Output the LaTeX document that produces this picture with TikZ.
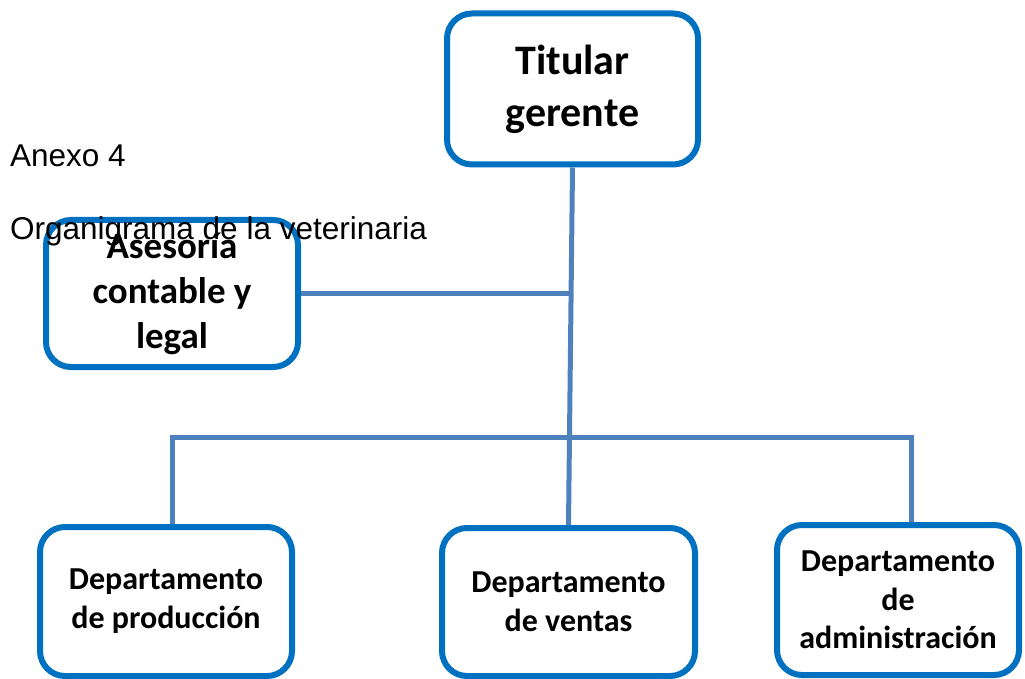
\documentclass[tikz,border=0pt]{standalone}
\usepackage{fontspec}
\setmainfont{Liberation Sans}
\newfontfamily\boxfont{Carlito}
\definecolor{orgblue}{RGB}{0, 112, 192}
\definecolor{orgline}{RGB}{79, 129, 189}
\begin{document}
\begin{tikzpicture}[x=1pt, y=-1pt,
    unit/.style={draw=orgblue, line width=6pt, rounded corners=25pt, fill=white, rectangle, align=center, inner sep=0pt, minimum width=251pt, minimum height=149pt},
    link/.style={draw=orgline, line width=5pt}]
        \useasboundingbox (0,0) rectangle (1025,679);
        % boxes
        \node[unit, font=\boxfont\bfseries\fontsize{42}{52}\selectfont, minimum height=151pt] (top) at (572.5,89) {Titular\\gerente};
        \node[unit, font=\boxfont\bfseries\fontsize{37}{45}\selectfont, minimum width=252pt, minimum height=147pt] (ases) at (172,293.5) {Asesoría\\contable y\\legal};
        \node[unit, font=\boxfont\bfseries\fontsize{32}{39}\selectfont, minimum width=252pt] (prod) at (166,601.5) {Departamento\\de producción};
        \node[unit, font=\boxfont\bfseries\fontsize{32}{39}\selectfont, minimum width=253pt, minimum height=148pt] (vent) at (568.5,602) {Departamento\\de ventas};
        \node[unit, font=\boxfont\bfseries\fontsize{32}{38.5}\selectfont, minimum width=242pt, minimum height=150pt] (adm) at (898,600) {Departamento\\de\\administración};
        % connectors
        \coordinate (barL) at (172,437);
        \coordinate (barR) at (911,437);
        \draw[link] (top.south) -- (vent.north);
        \draw[link] (ases.east) -- (ases.east -| top.south);
        \draw[link] (barL |- prod.north) -- (barL) -- (barR) -- (barR |- adm.north);
        % captions
        \node[anchor=base west, inner sep=0pt, font=\fontsize{31.5}{38}\selectfont] (anexo) at (10,167) {Anexo 4};
        \node[anchor=base west, inner sep=0pt, font=\fontsize{31.5}{38}\selectfont] (title) at (10,240) {Organigrama de la veterinaria};
\end{tikzpicture}
\end{document}
